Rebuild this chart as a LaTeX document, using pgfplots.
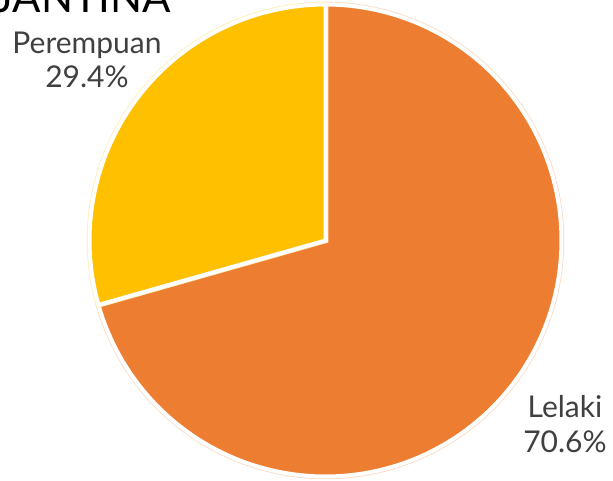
\documentclass[border=0pt]{standalone}
\usepackage{pgfplots}
\usepackage{pgfplotstable}
\pgfplotsset{compat=1.18}
\usepackage{fontspec}
\setmainfont{Lato}
\definecolor{cOrange}{HTML}{ED7D31}
\definecolor{cYellow}{HTML}{FFC000}
\definecolor{cText}{HTML}{404040}
\pgfplotstableread{
label value
Lelaki 70.6
Perempuan 29.4
}\piedata
\begin{document}
\begin{tikzpicture}
\path[use as bounding box] (0,0) rectangle (613pt,480pt);
\pgfplotstablegetelem{0}{value}\of\piedata \let\vA\pgfplotsretval
\pgfplotstablegetelem{1}{value}\of\piedata \let\vB\pgfplotsretval
\pgfmathsetmacro{\aEnd}{90-3.6*\vA}
\pgfmathsetmacro{\bEnd}{\aEnd-3.6*\vB}
\begin{axis}[
  at={(0,0)}, anchor=origin,
  width=613pt, height=480pt, scale only axis,
  xmin=0, xmax=613, ymin=0, ymax=480,
  hide axis, clip=false,
]
% Lelaki slice
\addplot[fill=cOrange, draw=cOrange!30, line width=5.5pt, domain=\aEnd:90, samples=150, variable=\t]
  ({325.5+236*cos(\t)},{239.5+236*sin(\t)}) -- (axis cs:325.5,239.5) -- cycle;
\addplot[fill=cOrange, draw=white, line width=4pt, domain=\aEnd:90, samples=150, variable=\t]
  ({325.5+236*cos(\t)},{239.5+236*sin(\t)}) -- (axis cs:325.5,239.5) -- cycle;
% Perempuan slice
\addplot[fill=cYellow, draw=cYellow!30, line width=5.5pt, domain=\bEnd:\aEnd, samples=80, variable=\t]
  ({325.5+236*cos(\t)},{239.5+236*sin(\t)}) -- (axis cs:325.5,239.5) -- cycle;
\addplot[fill=cYellow, draw=white, line width=4pt, domain=\bEnd:\aEnd, samples=80, variable=\t]
  ({325.5+236*cos(\t)},{239.5+236*sin(\t)}) -- (axis cs:325.5,239.5) -- cycle;
% labels
\node[text=cText, align=center, font=\fontsize{30}{34}\selectfont, anchor=base]
  at (axis cs:87,392) {Perempuan\\29.4\%};
\node[text=cText, align=center, font=\fontsize{30}{35}\selectfont, anchor=base]
  at (axis cs:565,28) {Lelaki\\70.6\%};
% title (cut off at top)
\node[text=black, font=\fontsize{42}{50}\selectfont, anchor=base east]
  at (axis cs:174,467) {JANTINA};
\end{axis}
\end{tikzpicture}
\end{document}
